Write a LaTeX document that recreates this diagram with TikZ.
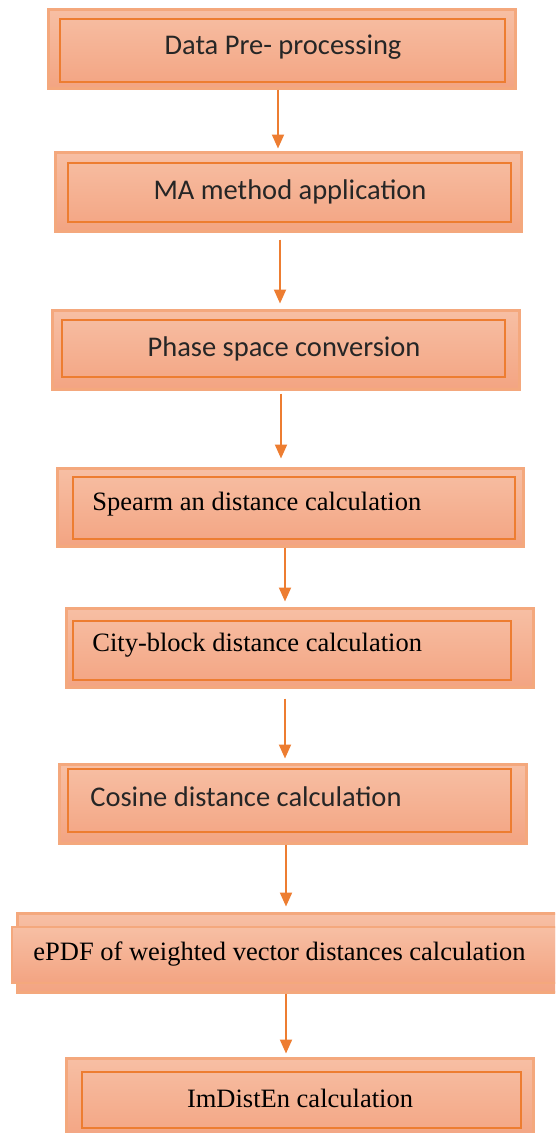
\documentclass[tikz,border=0pt]{standalone}
\usepackage{fontspec}
\setmainfont{Liberation Serif}
\newfontfamily\officesans{Carlito}
\usetikzlibrary{arrows.meta,positioning}

\definecolor{stepedge}{RGB}{244,168,125}
\definecolor{steptop}{RGB}{247,191,164}
\definecolor{stepbot}{RGB}{243,164,130}
\definecolor{stepline}{RGB}{237,125,49}

\tikzset{every picture/.style={line width=0.75pt}}
\tikzset{
  outerbox/.style={rectangle, draw=stepedge, line width=3pt, top color=steptop, bottom color=stepbot, inner sep=0pt},
  innerbox/.style={rectangle, draw=stepline, line width=1.8pt, inner sep=0pt},
  sanstext/.style={font=\officesans\fontsize{28.5}{34}\selectfont, text=black!85},
  seriftext/.style={font=\fontsize{26.5}{32}\selectfont, text=black},
  flow/.style={draw=stepline, line width=2pt, -{Triangle[width=12pt,length=14pt]}}
}

\begin{document}
\begin{tikzpicture}[x=1pt,y=1pt,yscale=-1,xscale=1]

\clip (0,0) rectangle (555,1133); %page of 555 x 1133

%Data pre-processing
\node [outerbox, minimum width=467pt, minimum height=79pt] (o1) at (281.5,48.5) {};
\node [innerbox, minimum width=445pt, minimum height=63pt] (b1) at (282.5,50.5) {};
%MA method
\node [outerbox, minimum width=466pt, minimum height=79pt] (o2) at (288,191.5) {};
\node [innerbox, minimum width=443pt, minimum height=59pt] (b2) at (289.5,192.5) {};
%Phase space
\node [outerbox, minimum width=467pt, minimum height=79pt] (o3) at (285.5,349.5) {};
\node [innerbox, minimum width=443pt, minimum height=57pt] (b3) at (283.5,348.5) {};
%Spearman
\node [outerbox, minimum width=466pt, minimum height=78pt] (o4) at (290,507) {};
\node [innerbox, minimum width=442pt, minimum height=62pt] (b4) at (294,508) {};
%City-block
\node [outerbox, minimum width=467pt, minimum height=79pt] (o5) at (299.5,647.5) {};
\node [innerbox, minimum width=438pt, minimum height=59pt] (b5) at (292,650.5) {};
%Cosine
\node [outerbox, minimum width=467pt, minimum height=79pt] (o6) at (292.5,803.5) {};
\node [innerbox, minimum width=443pt, minimum height=63pt] (b6) at (289.5,800.5) {};
%ePDF (runs past the right edge)
\node [outerbox, minimum width=560pt, minimum height=79pt] (o7) at (297,952.5) {};
\node [innerbox, top color=steptop, bottom color=stepbot, draw=stepedge, minimum width=565pt, minimum height=56pt] (b7) at (294.5,955) {};
%ImDistEn
\node [outerbox, minimum width=467pt, minimum height=82pt] (o8) at (299.5,1099) {};
\node [innerbox, minimum width=439pt, minimum height=56pt] (b8) at (301.5,1100) {};

%Straight Lines
\draw [flow, shorten >=2pt] ([xshift=-3.5pt]o1.south) -- ([xshift=-3.5pt]o1.south |- o2.north);
\draw [flow, shorten <=7pt, shorten >=5pt] ([xshift=-8pt]o2.south) -- ([xshift=-8pt]o2.south |- o3.north);
\draw [flow, shorten <=3pt, shorten >=8pt] ([xshift=-4.5pt]o3.south) -- ([xshift=-4.5pt]o3.south |- o4.north);
\draw [flow, shorten >=5pt] ([xshift=-5pt]o4.south) -- ([xshift=-5pt]o4.south |- o5.north);
\draw [flow, shorten <=10pt, shorten >=4pt] ([xshift=-14.5pt]o5.south) -- ([xshift=-14.5pt]o5.south |- o6.north);
\draw [flow, shorten >=5pt] ([xshift=-6.5pt]o6.south) -- ([xshift=-6.5pt]o6.south |- o7.north);
\draw [flow, shorten >=3pt] ([xshift=-11pt]o7.south) -- ([xshift=-11pt]o7.south |- o8.north);

% Text Node
\node [sanstext] (t1) at (283,47) {Data Pre- processing};
% Text Node
\node [sanstext] (t2) at (290,192) {MA method application};
% Text Node
\node [sanstext] (t3) at (284,349) {Phase space conversion};
% Text Node
\node [seriftext, anchor=west, inner sep=0pt] (t4) at (92,504) {Spearm an distance calculation};
% Text Node
\node [seriftext, anchor=west, inner sep=0pt] (t5) at (92,645) {City-block distance calculation};
% Text Node
\node [sanstext, anchor=west, inner sep=0pt] (t6) at (90,797) {Cosine distance calculation};
% Text Node
\node [seriftext, anchor=west, inner sep=0pt] (t7) at (33,954) {ePDF of weighted vector distances calculation};
% Text Node
\node [seriftext] (t8) at (300,1098) {ImDistEn calculation};

\end{tikzpicture}
\end{document}
